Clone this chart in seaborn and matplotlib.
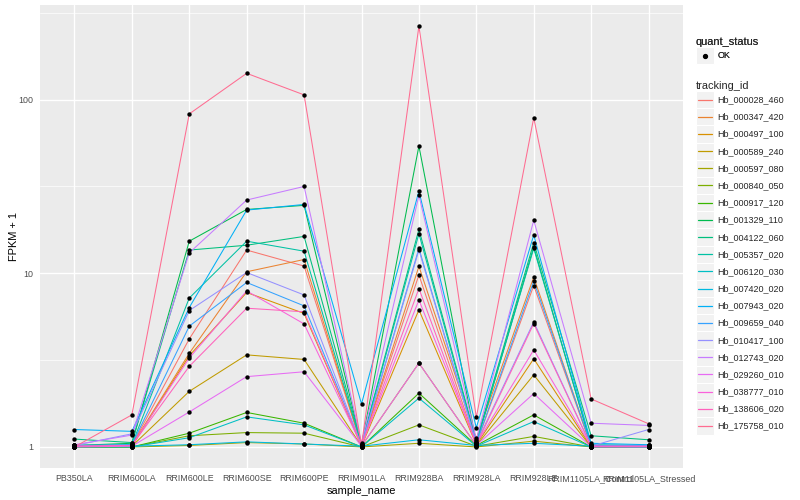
import numpy as np
import pandas as pd
import matplotlib
matplotlib.use("Agg")
import matplotlib.pyplot as plt
import seaborn as sns
from matplotlib.lines import Line2D
from matplotlib.patches import Rectangle
from matplotlib.legend_handler import HandlerBase
from matplotlib.ticker import FixedLocator, NullFormatter

samples = ["PB350LA", "RRIM600LA", "RRIM600LE", "RRIM600SE", "RRIM600PE",
           "RRIM901LA", "RRIM928BA", "RRIM928LA", "RRIM928LE",
           "RRIM1105LA_Control", "RRIM1105LA_Stressed"]

genes = ["Hb_000028_460", "Hb_000347_420", "Hb_000497_100", "Hb_000589_240",
         "Hb_000597_080", "Hb_000840_050", "Hb_000917_120", "Hb_001329_110",
         "Hb_004122_060", "Hb_005357_020", "Hb_006120_030", "Hb_007420_020",
         "Hb_007943_020", "Hb_009659_040", "Hb_010417_100", "Hb_012743_020",
         "Hb_029260_010", "Hb_038777_010", "Hb_138606_020", "Hb_175758_010"]

# FPKM + 1 per gene, in sample order
hb_000028_460 = [1.01, 1.02, 4.19, 13.6, 11.0, 1.02, 9.77, 1.04, 8.5, 1.01, 1.01]
hb_000347_420 = [1.01, 1.02, 3.46, 10.2, 12.0, 1.02, 10.96, 1.12, 9.51, 1.01, 1.01]
hb_000497_100 = [1.0, 1.01, 3.35, 7.75, 5.87, 1.01, 6.16, 1.03, 3.22, 1.0, 1.0]
hb_000589_240 = [1.0, 1.01, 2.09, 3.39, 3.19, 1.01, 3.04, 1.02, 2.60, 1.0, 1.0]
hb_000597_080 = [1.0, 1.0, 1.02, 1.06, 1.04, 1.0, 1.05, 1.0, 1.08, 1.0, 1.0]
hb_000840_050 = [1.0, 1.0, 1.16, 1.21, 1.2, 1.0, 1.34, 1.01, 1.15, 1.0, 1.0]
hb_000917_120 = [1.0, 1.0, 1.2, 1.58, 1.37, 1.0, 2.04, 1.02, 1.53, 1.0, 1.0]
hb_001329_110 = [1.02, 1.05, 15.3, 23.3, 24.6, 1.03, 54.0, 1.05, 14.2, 1.02, 1.01]
hb_004122_060 = [1.11, 1.06, 13.6, 14.5, 16.3, 1.04, 17.9, 1.08, 15.0, 1.16, 1.10]
hb_005357_020 = [1.02, 1.03, 7.2, 15.3, 13.4, 1.03, 16.9, 1.06, 13.9, 1.03, 1.02]
hb_006120_030 = [1.0, 1.0, 1.13, 1.49, 1.34, 1.0, 1.91, 1.01, 1.40, 1.0, 1.0]
hb_007420_020 = [1.01, 1.01, 1.03, 1.07, 1.04, 1.01, 1.10, 1.02, 1.05, 1.01, 1.0]
hb_007943_020 = [1.26, 1.23, 6.35, 23.1, 24.9, 1.77, 29.7, 1.29, 16.6, 1.05, 1.03]
hb_009659_040 = [1.02, 1.03, 4.96, 8.85, 6.49, 1.02, 13.9, 1.05, 8.99, 1.02, 1.02]
hb_010417_100 = [1.02, 1.19, 6.1, 10.1, 7.5, 1.02, 13.6, 1.05, 5.25, 1.01, 1.26]
hb_012743_020 = [1.03, 1.17, 13.1, 26.4, 31.6, 1.05, 28.1, 1.1, 20.2, 1.37, 1.33]
hb_029260_010 = [1.0, 1.01, 1.59, 2.54, 2.71, 1.01, 3.04, 1.02, 2.03, 1.0, 1.0]
hb_038777_010 = [1.01, 1.02, 3.25, 7.91, 5.11, 1.02, 7.02, 1.04, 3.62, 1.01, 1.01]
hb_138606_020 = [1.01, 1.02, 2.91, 6.29, 6.0, 1.02, 8.17, 1.03, 5.13, 1.01, 1.01]
hb_175758_010 = [1.0, 1.53, 82.7, 141.6, 106.4, 1.02, 265.0, 1.48, 78.6, 1.89, 1.36]

values = [hb_000028_460, hb_000347_420, hb_000497_100, hb_000589_240,
          hb_000597_080, hb_000840_050, hb_000917_120, hb_001329_110,
          hb_004122_060, hb_005357_020, hb_006120_030, hb_007420_020,
          hb_007943_020, hb_009659_040, hb_010417_100, hb_012743_020,
          hb_029260_010, hb_038777_010, hb_138606_020, hb_175758_010]

y_ticks = [1, 10, 100]
y_tick_labels = ["1", "10", "100"]

palette = ["#F8766D", "#EA8331", "#D89000", "#C09B00", "#A3A500", "#7CAE00",
           "#39B600", "#00BB4E", "#00BF7D", "#00C1A3", "#00BFC4", "#00BAE0",
           "#00B0F6", "#35A2FF", "#9590FF", "#C77CFF", "#E76BF3", "#FA62DB",
           "#FF62BC", "#FF6C91"]

rows = []
for g, vals in zip(genes, values):
    for s, v in zip(samples, vals):
        rows.append({"tracking_id": g, "sample_name": s, "fpkm": v, "quant_status": "OK"})
df = pd.DataFrame(rows)
df["sample_name"] = pd.Categorical(df["sample_name"], categories=samples, ordered=True)
df["xpos"] = df["sample_name"].cat.codes

sns.set_theme(style="white")
plt.rcParams["font.family"] = ["Liberation Sans", "DejaVu Sans"]

fig = plt.figure(figsize=(8, 5), dpi=100)
ax = fig.add_axes([40 / 800, 1 - 468 / 500, (683 - 40) / 800, (468 - 5) / 500])
ax.set_facecolor("#EBEBEB")

sns.lineplot(data=df, x="xpos", y="fpkm", hue="tracking_id", hue_order=genes,
             palette=palette, estimator=None, sort=False, linewidth=0.75,
             legend=False, ax=ax, zorder=2)
sns.scatterplot(data=df, x="xpos", y="fpkm", color="black", s=10, linewidth=0,
                marker="o", legend=False, ax=ax, zorder=3)

ax.set_yscale("log")
lo = np.log10(df["fpkm"].min())
hi = np.log10(df["fpkm"].max())
pad = 0.05 * (hi - lo)
ax.set_ylim(10 ** (lo - pad), 10 ** (hi + pad))
ax.set_xlim(-0.6, len(samples) - 1 + 0.6)

ax.yaxis.set_major_locator(FixedLocator(y_ticks))
ax.set_yticklabels(y_tick_labels)
ax.yaxis.set_minor_locator(FixedLocator([10 ** 0.5, 10 ** 1.5, 10 ** 2.5]))
ax.yaxis.set_minor_formatter(NullFormatter())
ax.set_xticks(range(len(samples)))
ax.set_xticklabels(samples)

ax.grid(which="major", color="white", linewidth=1.0)
ax.grid(which="minor", axis="y", color="white", linewidth=0.5)
ax.set_axisbelow(True)
for sp in ax.spines.values():
    sp.set_visible(False)
ax.tick_params(axis="both", which="major", length=2.5, width=0.8, color="#333333",
               labelsize=6.4, labelcolor="#4D4D4D", pad=2)
ax.tick_params(axis="y", which="minor", length=0)

ax.set_xlabel("sample_name", fontsize=7.9, color="black", labelpad=2)
ax.set_ylabel("FPKM + 1", fontsize=7.9, color="black", labelpad=0)


class KeyHandler(HandlerBase):
    def __init__(self, kind):
        super().__init__()
        self.kind = kind

    def create_artists(self, legend, orig_handle, xdescent, ydescent, width, height, fontsize, trans):
        rect = Rectangle((-xdescent, -ydescent), width, height, facecolor="#F2F2F2",
                         edgecolor="white", linewidth=0.8, transform=trans)
        cy = -ydescent + height / 2
        if self.kind == "point":
            art = Line2D([-xdescent + width / 2], [cy], marker="o", markersize=2.8,
                         color="black", linestyle="none", transform=trans)
        else:
            art = Line2D([-xdescent + 0.1 * width, -xdescent + 0.9 * width], [cy, cy],
                         color=orig_handle.get_color(), linewidth=0.9, transform=trans)
        return [rect, art]


common = dict(loc="upper left", frameon=False, fontsize=6.5, title_fontsize=7.9,
              handlelength=1.95, handleheight=2.55, handletextpad=0.45,
              labelspacing=0, borderaxespad=0, borderpad=0, alignment="left")

pt_handle = Line2D([], [], color="black")
leg1 = fig.legend([pt_handle], ["OK"], title="quant_status",
                  bbox_to_anchor=(696 / 800, 1 - 37 / 500),
                  handler_map={pt_handle: KeyHandler("point")}, **common)

line_handles = [Line2D([], [], color=c) for c in palette]
hmap = {h: KeyHandler("line") for h in line_handles}
leg2 = fig.legend(line_handles, genes, title="tracking_id",
                  bbox_to_anchor=(696 / 800, 1 - 81 / 500),
                  handler_map=hmap, **common)
fig.add_artist(leg1)

fig.savefig("out.png", dpi=100)
